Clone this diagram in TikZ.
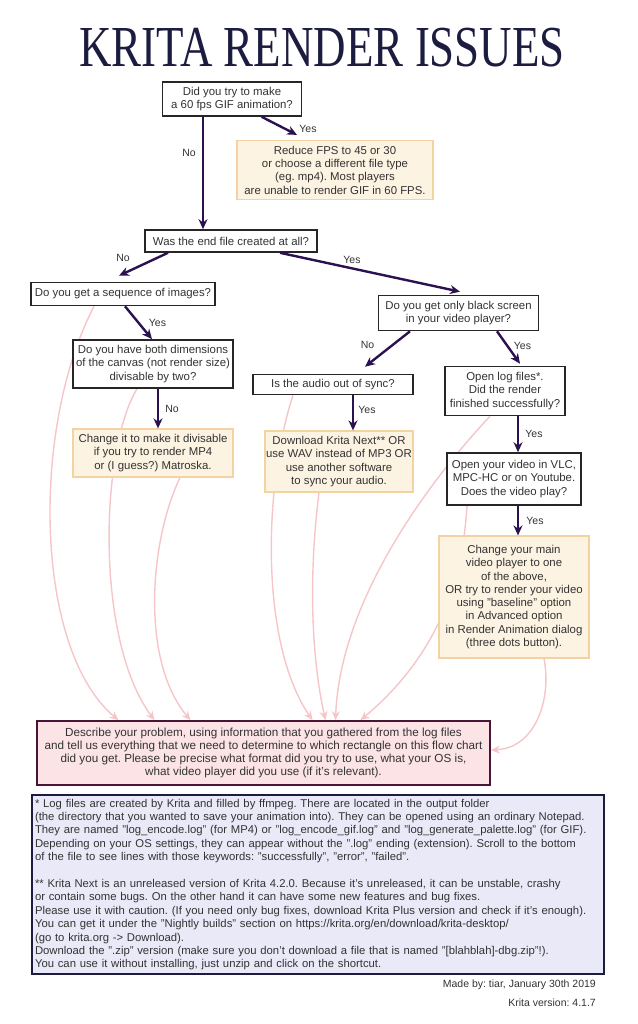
\documentclass[tikz,border=0pt]{standalone}
\usepackage{fontspec}
\setmainfont{Liberation Sans}
\newfontfamily\titlefont{Liberation Serif}
\usepackage{graphicx}
\usepackage{xcolor}
\usetikzlibrary{arrows.meta, positioning, shapes, backgrounds}
\frenchspacing

\definecolor{ink}{HTML}{333333}
\definecolor{navy}{HTML}{1C1C40}
\definecolor{flowpurple}{HTML}{2B1150}
\definecolor{ansfill}{HTML}{FDF3E2}
\definecolor{ansline}{HTML}{F3D3A2}
\definecolor{finfill}{HTML}{FCE3E6}
\definecolor{finline}{HTML}{4A1434}
\definecolor{notefill}{HTML}{E9E9F8}
\definecolor{backline}{HTML}{F6C5C8}

\begin{document}
\begin{tikzpicture}[x=1pt, y=-1pt, every node/.style={align=center, font=\fontsize{11.4}{13.3}\selectfont, text=ink, inner sep=0pt},
    quest/.style={draw=black!85, line width=1.6pt, fill=white},
    answer/.style={draw=ansline, line width=1.2pt, fill=ansfill},
    flow/.style={draw=flowpurple, line width=2.4pt, -{Stealth[length=10pt,width=9pt]}},
    back/.style={draw=backline, line width=1.4pt, -{Stealth[length=9pt,width=8pt]}},
    lbl/.style={font=\fontsize{10.5}{12}\selectfont}]
    \useasboundingbox (0,0) rectangle (637,1024);

    \node[text=navy] (title) at (322,48) {\scalebox{0.775}[1]{\titlefont\fontsize{58}{58}\selectfont KRITA RENDER ISSUES}};

    % questions and answers
    \node (gif) [quest, minimum width=139pt, minimum height=34pt] at (232,99) {Did you try to make\\a 60 fps GIF animation?};
    \node (fps) [answer, minimum width=196pt, minimum height=59pt] at (335,170) {Reduce FPS to 45 or 30\\or choose a different file type\\(eg. mp4). Most players\\are unable to render GIF in 60 FPS.};
    \node (created) [quest, minimum width=172pt, minimum height=22pt] at (231,241) {Was the end file created at all?};
    \node (sequence) [quest, minimum width=184pt, minimum height=23pt] at (123,294) {Do you get a sequence of images?};
    \node (even) [quest, minimum width=160pt, minimum height=48pt] at (153,364) {Do you have both dimensions\\of the canvas (not render size)\\divisable by two?};
    \node (divisible) [answer, minimum width=160pt, minimum height=48pt] at (153,453) {Change it to make it divisable\\if you try to render MP4\\or (I guess?) Matroska.};
    \node (black) [quest, minimum width=160pt, minimum height=35pt] at (458.5,313) {Do you get only black screen\\in your video player?};
    \node (audio) [quest, minimum width=160pt, minimum height=20pt] at (333,384.5) {Is the audio out of sync?};
    \node (next) [answer, minimum width=148pt, minimum height=61pt] at (339,461.5) {Download Krita Next** OR\\use WAV instead of MP3 OR\\use another software\\to sync your audio.};
    \node (logs) [quest, minimum width=120pt, minimum height=49pt] at (505,391) {Open log files*.\\Did the render\\finished successfully?};
    \node (vlc) [quest, minimum width=134pt, minimum height=52pt] at (514,479) {Open your video in VLC,\\MPC-HC or on Youtube.\\Does the video play?};
    \node (player) [answer, minimum width=150pt, minimum height=122pt] at (514,597) {Change your main\\video player to one\\of the above,\\OR try to render your video\\using "baseline" option\\in Advanced option\\in Render Animation dialog\\(three dots button).};
    \node (describe) [draw=finline, line width=1.6pt, fill=finfill, minimum width=453pt, minimum height=64pt, font=\fontsize{11.7}{13.3}\selectfont] at (263.5,753) {Describe your problem, using information that you gathered from the log files\\and tell us everything that we need to determine to which rectangle on this flow chart\\did you get. Please be precise what format did you try to use, what your OS is,\\what video player did you use (if it's relevant).};

    % footnotes
    \node (notes) [draw=navy, line width=1.6pt, fill=notefill, minimum width=572pt, minimum height=179pt, text width=566pt, align=left, font=\fontsize{11.3}{13.4}\selectfont] at (318,884.5) {* Log files are created by Krita and filled by ffmpeg. There are located in the output folder\\(the directory that you wanted to save your animation into). They can be opened using an ordinary Notepad.\\They are named "log\_encode.log" (for MP4) or "log\_encode\_gif.log" and "log\_generate\_palette.log" (for GIF).\\Depending on your OS settings, they can appear without the ".log" ending (extension). Scroll to the bottom\\of the file to see lines with those keywords: "successfully", "error", "failed".\\[13.4pt]** Krita Next is an unreleased version of Krita 4.2.0. Because it's unreleased, it can be unstable, crashy\\or contain some bugs. On the other hand it can have some new features and bug fixes.\\Please use it with caution. (If you need only bug fixes, download Krita Plus version and check if it's enough).\\You can get it under the "Nightly builds" section on https://krita.org/en/download/krita-desktop/\\(go to krita.org -> Download).\\Download the ".zip" version (make sure you don't download a file that is named "[blahblah]-dbg.zip"!).\\You can use it without installing, just unzip and click on the shortcut.};
    \node (madeby) [anchor=east, font=\fontsize{10.5}{12}\selectfont] at (596,985) {Made by: tiar, January 30th 2019};
    \node (version) [anchor=east, font=\fontsize{10.5}{12}\selectfont] at (596,1003) {Krita version: 4.1.7};

    % decisions
    \draw[flow] (gif.-31) -- ([xshift=-38pt, yshift=5pt]fps.north) node[lbl, pos=1, xshift=11pt, yshift=6pt] {Yes};
    \draw[flow] ([xshift=-29pt]gif.south) -- ([xshift=-29pt]gif.south |- created.north) node[lbl, pos=0.32, xshift=-14pt] {No};
    \draw[flow] ([xshift=-63pt]created.south) -- ([xshift=-4pt, yshift=6pt]sequence.north) node[lbl, pos=0, xshift=-45pt, yshift=-5pt] {No};
    \draw[flow] ([xshift=49pt]created.south) -- ([xshift=1.5pt, yshift=3pt]black.north) node[lbl, pos=0.4, yshift=8pt] {Yes};
    \draw[flow] ([xshift=2pt]sequence.south) -- ([xshift=-1pt]even.north) node[lbl, midway, xshift=19pt] {Yes};
    \draw[flow] ([xshift=5pt]even.south) -- ([xshift=5pt]divisible.north) node[lbl, midway, xshift=14pt] {No};
    \draw[flow] ([xshift=-48.5pt]black.south) -- ([xshift=32pt, yshift=7pt]audio.north) node[lbl, midway, xshift=-20pt, yshift=4pt] {No};
    \draw[flow] ([xshift=38.5pt]black.south) -- ([xshift=15pt, yshift=2pt]logs.north) node[lbl, midway, xshift=14pt, yshift=2pt] {Yes};
    \draw[flow] ([xshift=20pt]audio.south) -- ([xshift=14pt]next.north) node[lbl, midway, xshift=14pt, yshift=3pt] {Yes};
    \draw[flow] ([xshift=4pt]vlc.north |- logs.south) -- ([xshift=4pt]vlc.north) node[lbl, midway, xshift=16pt] {Yes};
    \draw[flow] ([xshift=4pt]vlc.south) -- ([xshift=4pt]player.north) node[lbl, midway, xshift=17pt] {Yes};

    % back to the report box
    \begin{pgfonlayer}{background}
        \draw[back] ([xshift=-29pt]sequence.south) .. controls (30,430) and (35,650) .. ([xshift=-145pt]describe.north);
        \draw[back] ([xshift=-16pt]even.south) .. controls (100,450) and (95,640) .. ([xshift=-109pt]describe.north);
        \draw[back] ([xshift=27pt]divisible.south) .. controls (150,540) and (140,660) .. ([xshift=-73pt]describe.north);
        \draw[back] ([xshift=-40pt]audio.south) .. controls (265,480) and (258,640) .. ([xshift=49pt]describe.north);
        \draw[back] ([xshift=-20pt]next.south) .. controls (308,580) and (312,660) .. ([xshift=62pt]describe.north);
        \draw[back] ([xshift=-15pt]logs.south) .. controls (430,480) and (340,600) .. ([xshift=72pt]describe.north);
        \draw[back] ([xshift=-47pt]vlc.south) .. controls (462,590) and (432,660) .. ([xshift=97pt]describe.north);
        \draw[back] ([xshift=30pt]player.south) .. controls (552,700) and (535,748) .. ([yshift=3pt]describe.east);
    \end{pgfonlayer}
\end{tikzpicture}
\end{document}
